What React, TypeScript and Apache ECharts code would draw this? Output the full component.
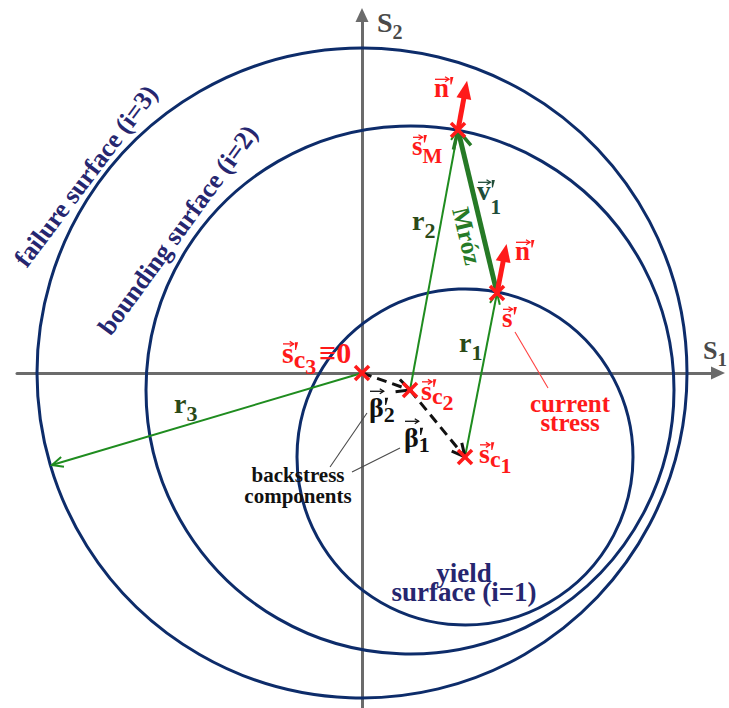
import { useEffect, useRef } from "react";
import * as echarts from "echarts";

// ---- stress-space geometry (s1 to the right, s2 up, origin at s'c3) ----
const surfaceNames = ["failure surface (i=3)", "bounding surface (i=2)", "yield\nsurface (i=1)"];
const centerS1 = [0, 48, 103];
const centerS2 = [0, -17, -84];
const surfaceRadius = [325, 264, 168];

const currentStress = [135, 80]; // s' on the yield surface
const mrozImage = [96, 243]; // s'M on the bounding surface
const failureReach = [-310, -92]; // end of r3 on the failure surface
const normalLength = 50;

const c3 = [centerS1[0], centerS2[0]];
const c2 = [centerS1[1], centerS2[1]];
const c1 = [centerS1[2], centerS2[2]];

function normalTip(p: number[], c: number[]) {
  const dx = p[0] - c[0];
  const dy = p[1] - c[1];
  const l = Math.hypot(dx, dy);
  return [p[0] + (dx / l) * normalLength, p[1] + (dy / l) * normalLength];
}

type Kind = "radius" | "mroz" | "normal" | "backstress";
const vectors: { from: number[]; to: number[]; kind: Kind }[] = [
  { from: c3, to: failureReach, kind: "radius" },
  { from: c2, to: mrozImage, kind: "radius" },
  { from: c1, to: currentStress, kind: "radius" },
  { from: currentStress, to: mrozImage, kind: "mroz" },
  { from: mrozImage, to: normalTip(mrozImage, c2), kind: "normal" },
  { from: currentStress, to: normalTip(currentStress, c1), kind: "normal" },
  { from: c3, to: c2, kind: "backstress" },
  { from: c2, to: c1, kind: "backstress" },
];

const markedPoints = [c3, c2, c1, mrozImage, currentStress];

const leaderFrom = [[-32, -94], [-10, -99], [153, 41]];
const leaderTo = [[5, -40], [38, -75], [186, -15]];

// ---- styling ----
const FONT = '"Liberation Serif", "Times New Roman", serif';
const NAVY = "#0d2c6a";
const TEXT_NAVY = "#26266f";
const RED = "#ff1a1a";
const AXIS_GRAY = "#6b6b6b";
const R_GREEN = "#2b4a17";

const vectorStyle: Record<Kind, any> = {
  radius: { color: "#1f8c1f", width: 2, head: 11, half: 5, headWidth: 2, filled: false },
  mroz: { color: "#267a26", width: 5, head: 18, half: 9, headWidth: 3.5, filled: false },
  normal: { color: RED, width: 5, head: 18, half: 7.5, filled: true },
  backstress: { color: "#111111", width: 3, head: 13, half: 6.5, headWidth: 3, filled: false, dash: [10, 6] },
};

// a notation piece: glyph run, or a prime tick (prime: true); stack keeps the cursor in place
type Seg = { t?: string; prime?: boolean; size: number; dy?: number; vec?: boolean; tall?: boolean; stack?: boolean; gap?: number };

const notation: { at: number[]; color: string; segs: Seg[] }[] = [
  { at: [72, 276], color: RED, segs: [{ t: "n", size: 27, vec: true }, { prime: true, size: 27 }] },
  { at: [153, 113], color: RED, segs: [{ t: "n", size: 27, vec: true }, { prime: true, size: 27 }] },
  { at: [50, 218], color: RED, segs: [{ t: "s", size: 27, vec: true }, { prime: true, size: 27, stack: true }, { t: "M", size: 21, dy: 8 }] },
  { at: [115, 173], color: "#204d3a", segs: [{ t: "v", size: 27, vec: true }, { prime: true, size: 27, stack: true }, { t: "1", size: 21, dy: 14 }] },
  { at: [140, 46], color: RED, segs: [{ t: "s", size: 27, vec: true }, { prime: true, size: 27 }] },
  {
    at: [-80, 10], color: RED,
    segs: [
      { t: "s", size: 30, vec: true },
      { prime: true, size: 28, stack: true },
      { t: "c", size: 26, dy: 5 },
      { t: "3", size: 22, dy: 11 },
      { t: "≡0", size: 30, gap: 3 },
    ],
  },
  { at: [59, -27], color: RED, segs: [{ t: "s", size: 28, vec: true }, { prime: true, size: 28, stack: true }, { t: "c", size: 24, dy: 4 }, { t: "2", size: 22, dy: 10 }] },
  { at: [117, -90], color: RED, segs: [{ t: "s", size: 28, vec: true }, { prime: true, size: 28, stack: true }, { t: "c", size: 24, dy: 4 }, { t: "1", size: 22, dy: 10 }] },
  { at: [7, -44], color: "#111", segs: [{ t: "β", size: 28, vec: true, tall: true }, { prime: true, size: 26, stack: true }, { t: "2", size: 22, dy: 5 }] },
  { at: [42, -74], color: "#111", segs: [{ t: "β", size: 28, vec: true, tall: true }, { prime: true, size: 26, stack: true }, { t: "1", size: 22, dy: 5 }] },
  { at: [50, 143], color: R_GREEN, segs: [{ t: "r", size: 28 }, { t: "2", size: 22, dy: 8 }] },
  { at: [97, 21], color: R_GREEN, segs: [{ t: "r", size: 28 }, { t: "1", size: 22, dy: 8 }] },
  { at: [-188, -40], color: R_GREEN, segs: [{ t: "r", size: 28 }, { t: "3", size: 22, dy: 8 }] },
  { at: [15, 341], color: "#4a4a4a", segs: [{ t: "S", size: 28 }, { t: "2", size: 20, dy: 7 }] },
  { at: [341, 14], color: "#4a4a4a", segs: [{ t: "S", size: 26 }, { t: "1", size: 19, dy: 7 }] },
];

// at = baseline of the first line (centred); lead = distance between baselines
const captions: { at: number[]; text: string; size: number; color: string; lead?: number; rotate?: number }[] = [
  { at: [-64, -109], text: "backstress\ncomponents", size: 21, lead: 21, color: "#111" },
  { at: [208, -39], text: "current\nstress", size: 25, lead: 19, color: RED },
  { at: [102, -209], text: surfaceNames[2], size: 27, lead: 19, color: TEXT_NAVY },
  { at: [105, 137], text: "Mróz", size: 25, color: "#267a26", rotate: -76.5 },
  { at: [-276, 197], text: surfaceNames[0], size: 26, color: TEXT_NAVY, rotate: 53 },
  { at: [-184, 143], text: surfaceNames[1], size: 26, color: TEXT_NAVY, rotate: 54 },
];

let measureCtx: CanvasRenderingContext2D | null = null;
function measure(text: string, size: number) {
  if (!measureCtx) measureCtx = document.createElement("canvas").getContext("2d");
  measureCtx!.font = `bold ${size}px ${FONT}`;
  return measureCtx!.measureText(text).width;
}

function arrowGroup(p0: number[], p1: number[], st: any) {
  const dx = p1[0] - p0[0];
  const dy = p1[1] - p0[1];
  const len = Math.hypot(dx, dy);
  const ux = dx / len;
  const uy = dy / len;
  const nx = -uy;
  const ny = ux;
  const bx = p1[0] - ux * st.head;
  const by = p1[1] - uy * st.head;
  const left = [bx + nx * st.half, by + ny * st.half];
  const right = [bx - nx * st.half, by - ny * st.half];
  const end = st.filled ? [bx + ux * 2, by + uy * 2] : p1;
  return {
    type: "group",
    children: [
      {
        type: "line",
        shape: { x1: p0[0], y1: p0[1], x2: end[0], y2: end[1] },
        style: { stroke: st.color, lineWidth: st.width, lineDash: st.dash || null, fill: "none" },
      },
      st.filled
        ? { type: "polygon", shape: { points: [left, p1, right] }, style: { fill: st.color } }
        : {
            type: "polyline",
            shape: { points: [left, p1, right] },
            style: { stroke: st.color, lineWidth: st.headWidth, fill: "none" },
          },
    ],
  };
}

function notationGroup(x: number, y: number, segs: Seg[], color: string) {
  const children: any[] = [];
  let cx = x;
  for (const s of segs) {
    const base = y + (s.dy || 0);
    cx += s.gap || 0;
    if (s.prime) {
      // prime drawn as a short slanted tick near cap height
      const top = base - 0.74 * s.size;
      const bot = base - 0.46 * s.size;
      children.push({
        type: "polygon",
        shape: { points: [[cx + 1.2, top], [cx + 4.4, top], [cx + 2.4, bot], [cx + 1.4, bot]] },
        style: { fill: color },
      });
      if (!s.stack) cx += 6;
      continue;
    }
    const t = s.t || "";
    const w = measure(t, s.size);
    children.push({
      type: "text",
      x: cx,
      y: base - 0.34 * s.size,
      style: { text: t, fill: color, font: `bold ${s.size}px ${FONT}`, align: "left", verticalAlign: "middle" },
    });
    if (s.vec) {
      const ay = base - (s.tall ? 0.74 : 0.47) * s.size - 5;
      const x0 = cx + 1;
      const x1 = cx + w;
      children.push({ type: "line", shape: { x1: x0, y1: ay, x2: x1, y2: ay }, style: { stroke: color, lineWidth: 1.3 } });
      children.push({
        type: "polyline",
        shape: { points: [[x1 - 4, ay - 2.5], [x1, ay], [x1 - 4, ay + 2.5]] },
        style: { stroke: color, lineWidth: 1.3, fill: "none" },
      });
    }
    if (!s.stack) cx += w;
  }
  return { type: "group", children };
}

export default function App() {
  const ref = useRef<HTMLDivElement>(null);

  useEffect(() => {
    if (!ref.current) return;
    const chart = echarts.init(ref.current, null, { renderer: "svg" });

    const axisLine = {
      show: true,
      onZero: true,
      symbol: ["none", "triangle"],
      symbolSize: [13, 14],
      lineStyle: { color: AXIS_GRAY, width: 3 },
    };

    chart.setOption({
      animation: false,
      grid: { left: 17, right: 11, top: 15, bottom: 0 },
      xAxis: {
        type: "value",
        min: -345,
        max: 356,
        axisLine,
        axisTick: { show: false },
        axisLabel: { show: false },
        splitLine: { show: false },
      },
      yAxis: {
        type: "value",
        min: -335,
        max: 358,
        axisLine,
        axisTick: { show: false },
        axisLabel: { show: false },
        splitLine: { show: false },
      },
      series: [
        {
          type: "custom",
          name: "surfaces",
          clip: false,
          silent: true,
          data: surfaceRadius.map((r, i) => [centerS1[i], centerS2[i], r]),
          renderItem: (_p: any, api: any) => {
            const c = api.coord([api.value(0), api.value(1)]);
            const r = api.size([api.value(2), 0])[0];
            return {
              type: "circle",
              shape: { cx: c[0], cy: c[1], r },
              style: { fill: "none", stroke: NAVY, lineWidth: 3 },
            };
          },
        },
        {
          type: "custom",
          name: "leaders",
          clip: false,
          silent: true,
          data: leaderFrom.map((f, i) => [f[0], f[1], leaderTo[i][0], leaderTo[i][1]]),
          renderItem: (p: any, api: any) => {
            const a = api.coord([api.value(0), api.value(1)]);
            const b = api.coord([api.value(2), api.value(3)]);
            const isRed = p.dataIndex === 2;
            return {
              type: "line",
              shape: { x1: a[0], y1: a[1], x2: b[0], y2: b[1] },
              style: { stroke: isRed ? "#ff4040" : "#4a4a4a", lineWidth: 1.1 },
            };
          },
        },
        {
          type: "custom",
          name: "vectors",
          clip: false,
          silent: true,
          data: vectors.map((v) => [v.from[0], v.from[1], v.to[0], v.to[1]]),
          renderItem: (p: any, api: any) => {
            const a = api.coord([api.value(0), api.value(1)]);
            const b = api.coord([api.value(2), api.value(3)]);
            return arrowGroup(a, b, vectorStyle[vectors[p.dataIndex].kind]);
          },
        },
        {
          type: "custom",
          name: "points",
          clip: false,
          silent: true,
          data: markedPoints,
          renderItem: (_p: any, api: any) => {
            const c = api.coord([api.value(0), api.value(1)]);
            const h = 7;
            const st = { stroke: RED, lineWidth: 3.5 };
            return {
              type: "group",
              children: [
                { type: "line", shape: { x1: c[0] - h, y1: c[1] - h, x2: c[0] + h, y2: c[1] + h }, style: st },
                { type: "line", shape: { x1: c[0] - h, y1: c[1] + h, x2: c[0] + h, y2: c[1] - h }, style: st },
              ],
            };
          },
        },
        {
          type: "custom",
          name: "notation",
          clip: false,
          silent: true,
          data: notation.map((n) => n.at),
          renderItem: (p: any, api: any) => {
            const c = api.coord([api.value(0), api.value(1)]);
            const n = notation[p.dataIndex];
            return notationGroup(c[0], c[1], n.segs, n.color);
          },
        },
        {
          type: "custom",
          name: "captions",
          clip: false,
          silent: true,
          data: captions.map((c) => c.at),
          renderItem: (p: any, api: any) => {
            const c = api.coord([api.value(0), api.value(1)]);
            const cap = captions[p.dataIndex];
            const rotated = cap.rotate !== undefined;
            const lines = cap.text.split("\n").length;
            const lead = cap.lead || cap.size;
            // centre of the block: midway between first and last line centres
            const cy = rotated ? c[1] : c[1] - 0.34 * cap.size + ((lines - 1) * lead) / 2;
            return {
              type: "text",
              x: c[0],
              y: cy,
              rotation: rotated ? ((cap.rotate as number) * Math.PI) / 180 : 0,
              style: {
                text: cap.text,
                fill: cap.color,
                font: `bold ${cap.size}px ${FONT}`,
                lineHeight: lead,
                align: "center",
                verticalAlign: "middle",
              },
            };
          },
        },
      ],
    });

    return () => chart.dispose();
  }, []);

  return <div ref={ref} style={{ position: "fixed", left: 0, top: 0, width: 729, height: 708, background: "#fff" }} />;
}
